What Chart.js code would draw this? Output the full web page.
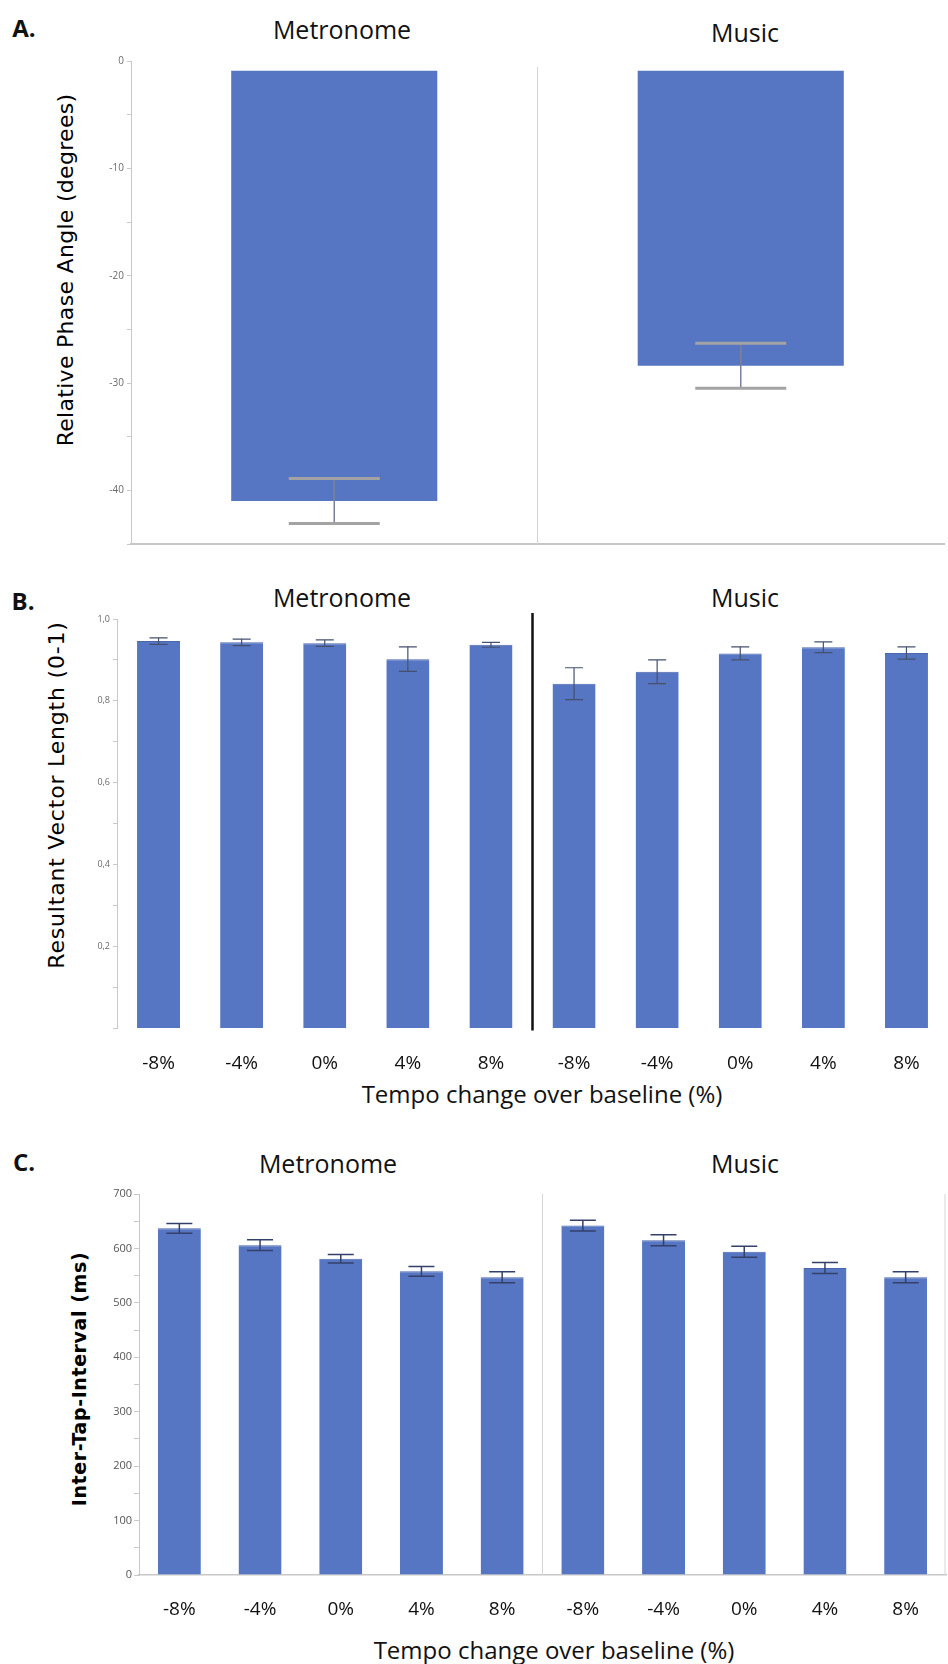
<!DOCTYPE html>
<html>
<head>
<meta charset="utf-8">
<script src="https://cdn.jsdelivr.net/npm/chart.js@4"></script>
<style>
  body { margin: 0; background: #fff; width: 948px; height: 1664px; position: relative; overflow: hidden; font-family: 'Open Sans', sans-serif; }
  .cv { position: absolute; left: 0; width: 948px; }
  .txt { position: absolute; white-space: nowrap; color: #111; transform: translate(-50%, -50%); }
  .lbl { font-weight: bold; font-size: 24px; }
  .grp { font-size: 25px; }
  .xt { font-size: 24px; }
  .yt { font-family: 'DejaVu Sans', sans-serif; font-size: 22px; color: #000; transform: translate(-50%, -50%) rotate(-90deg); }
</style>
</head>
<body>

<div class="txt lbl" style="left:24px; top:27px;">A.</div>
<div class="txt grp" style="left:342px; top:29px;">Metronome</div>
<div class="txt grp" style="left:745px; top:32px;">Music</div>
<div class="txt yt" style="left:65px; top:270px; letter-spacing:0.3px;">Relative Phase Angle (degrees)</div>
<canvas id="chartA" class="cv" style="top:0px; height:560px;" width="948" height="560"></canvas>

<div class="txt lbl" style="left:23px; top:600px;">B.</div>
<div class="txt grp" style="left:342px; top:597px;">Metronome</div>
<div class="txt grp" style="left:745px; top:597px;">Music</div>
<div class="txt yt" style="left:56px; top:795px; letter-spacing:0.8px;">Resultant Vector Length (0-1)</div>
<div class="txt xt" style="left:542px; top:1093px;">Tempo change over baseline (%)</div>
<canvas id="chartB" class="cv" style="top:560px; height:540px;" width="948" height="540"></canvas>

<div class="txt lbl" style="left:24px; top:1161px;">C.</div>
<div class="txt grp" style="left:328px; top:1163px;">Metronome</div>
<div class="txt grp" style="left:745px; top:1163px;">Music</div>
<div class="txt yt" style="left:79px; top:1379px; font-size:19px; font-weight:bold; letter-spacing:0.6px;">Inter-Tap-Interval (ms)</div>
<div class="txt xt" style="left:554px; top:1649px;">Tempo change over baseline (%)</div>
<canvas id="chartC" class="cv" style="top:1100px; height:564px;" width="948" height="564"></canvas>

<script>
// panel A: relative phase angle, one bar per condition
const conditions = ['Metronome', 'Music'];
const phaseStart = [-0.9, -0.9];
const phaseMean = [-41.0, -28.4];
const phaseErr = [2.1, 2.1];

// panels B and C: five tempo steps per condition
const tempoLabels = ['-8%', '-4%', '0%', '4%', '8%', '-8%', '-4%', '0%', '4%', '8%'];
const vectorMean = [0.946, 0.943, 0.941, 0.902, 0.937, 0.842, 0.871, 0.916, 0.931, 0.917];
const vectorErr = [0.008, 0.008, 0.008, 0.030, 0.006, 0.039, 0.029, 0.016, 0.013, 0.015];
const itiMean = [637, 606, 581, 558, 547, 642, 615, 594, 564, 547];
const itiErr = [9, 10, 8, 9, 10, 10, 10, 10, 10, 10];

const barColor = '#5676c3';

// error bars drawn at the end of each bar
const errorBars = {
    id: 'errorBars',
    afterDatasetsDraw(chart, args, opts) {
        if (!opts.err) return;
        let ctx = chart.ctx;
        let y = chart.scales.y;
        let meta = chart.getDatasetMeta(0);
        ctx.save();
        meta.data.forEach(function (bar, i) {
            let m = opts.mean[i];
            let hi = y.getPixelForValue(m + opts.err[i]);
            let lo = y.getPixelForValue(m - opts.err[i]);
            ctx.strokeStyle = opts.color;
            ctx.lineWidth = opts.lineWidth;
            ctx.beginPath();
            ctx.moveTo(bar.x, hi);
            ctx.lineTo(bar.x, lo);
            ctx.stroke();
            ctx.strokeStyle = opts.capColor || opts.color;
            ctx.lineWidth = opts.capLineWidth || opts.lineWidth;
            ctx.beginPath();
            ctx.moveTo(bar.x - opts.cap / 2, hi);
            ctx.lineTo(bar.x + opts.cap / 2, hi);
            ctx.moveTo(bar.x - opts.cap / 2, lo);
            ctx.lineTo(bar.x + opts.cap / 2, lo);
            ctx.stroke();
        });
        ctx.restore();
    }
};

// vertical separator between Metronome and Music, plus optional right frame
const separator = {
    id: 'separator',
    beforeDatasetsDraw(chart, args, opts) {
        if (opts.after === undefined) return;
        let ctx = chart.ctx;
        let x = chart.scales.x;
        let area = chart.chartArea;
        let sx = (x.getPixelForValue(opts.after) + x.getPixelForValue(opts.after + 1)) / 2;
        ctx.save();
        ctx.strokeStyle = opts.color;
        ctx.lineWidth = opts.width;
        ctx.beginPath();
        ctx.moveTo(sx, area.top - (opts.extendTop || 0) + (opts.inset || 0));
        ctx.lineTo(sx, area.bottom + (opts.extendBottom || 0));
        if (opts.frame) {
            ctx.moveTo(area.right - 1, area.top);
            ctx.lineTo(area.right - 1, area.bottom);
        }
        ctx.stroke();
        ctx.restore();
    }
};

Chart.register(errorBars, separator);

let fixWidth = function (w) {
    return function (scale) { scale.width = w; };
};
let fixHeight = function (h) {
    return function (scale) { scale.height = h; };
};

let tickFont = { family: 'Open Sans', size: 10 };

// A
new Chart(document.getElementById('chartA'), {
    type: 'bar',
    data: {
        labels: conditions,
        datasets: [{
            data: phaseMean.map(function (m, i) { return [phaseStart[i], m]; }),
            backgroundColor: barColor,
            borderSkipped: false,
            borderWidth: 0,
            categoryPercentage: 1,
            barPercentage: 0.507
        }]
    },
    options: {
        responsive: false,
        animation: false,
        layout: { padding: { top: 61, right: 4, left: 0, bottom: 0 } },
        plugins: {
            legend: { display: false },
            tooltip: { enabled: false },
            errorBars: { mean: phaseMean, err: phaseErr, color: '#7a819c', lineWidth: 1.5, capColor: '#a3a3a3', capLineWidth: 3, cap: 91 },
            separator: { after: 0, color: '#d4d4d4', width: 1, inset: 6 }
        },
        scales: {
            x: {
                afterFit: fixHeight(16),
                ticks: { display: false },
                grid: { display: false },
                border: { color: '#c6c6c6', width: 2 }
            },
            y: {
                min: -45, max: 0,
                afterFit: fixWidth(131),
                ticks: {
                    stepSize: 5,
                    padding: 3,
                    color: '#6a6a6a',
                    font: tickFont,
                    callback: function (v) { return v % 10 === 0 ? String(v) : ''; }
                },
                grid: { drawOnChartArea: false, tickLength: 4, color: '#c8c8c8' },
                border: { color: '#c8c8c8', width: 1 }
            }
        }
    }
});

// B
new Chart(document.getElementById('chartB'), {
    type: 'bar',
    data: {
        labels: tempoLabels,
        datasets: [{
            data: vectorMean,
            backgroundColor: barColor,
            borderColor: '#4a66ad',
            borderWidth: { top: 1 },
            categoryPercentage: 1,
            barPercentage: 0.518
        }]
    },
    options: {
        responsive: false,
        animation: false,
        layout: { padding: { top: 59, right: 0, left: 0, bottom: 0 } },
        plugins: {
            legend: { display: false },
            tooltip: { enabled: false },
            errorBars: { mean: vectorMean, err: vectorErr, color: '#46506e', lineWidth: 1.2, cap: 18 },
            separator: { after: 4, color: '#111', width: 2.5, extendTop: 6, extendBottom: 2 }
        },
        scales: {
            x: {
                afterFit: fixHeight(71.5),
                ticks: { padding: 16, color: '#111', font: { family: 'Open Sans', size: 19 } },
                grid: { display: false },
                border: { display: false }
            },
            y: {
                min: 0, max: 1,
                afterFit: fixWidth(117),
                ticks: {
                    stepSize: 0.1,
                    padding: 3,
                    color: '#6a6a6a',
                    font: { family: 'Open Sans', size: 9 },
                    callback: function (v) {
                        let k = Math.round(v * 10);
                        if (k === 0 || k % 2 !== 0) return '';
                        return (k / 10).toFixed(1).replace('.', ',');
                    }
                },
                grid: { drawOnChartArea: false, tickLength: 4, color: '#c8c8c8' },
                border: { color: '#c8c8c8', width: 1 }
            }
        }
    }
});

// C
new Chart(document.getElementById('chartC'), {
    type: 'bar',
    data: {
        labels: tempoLabels,
        datasets: [{
            data: itiMean,
            backgroundColor: barColor,
            borderColor: '#4a66ad',
            borderWidth: { top: 1 },
            categoryPercentage: 1,
            barPercentage: 0.533
        }]
    },
    options: {
        responsive: false,
        animation: false,
        layout: { padding: { top: 94, right: 2, left: 0, bottom: 0 } },
        plugins: {
            legend: { display: false },
            tooltip: { enabled: false },
            errorBars: { mean: itiMean, err: itiErr, color: '#34406a', lineWidth: 1.5, cap: 26 },
            separator: { after: 4, color: '#d6d6d6', width: 1, frame: true }
        },
        scales: {
            x: {
                afterFit: fixHeight(89),
                ticks: { padding: 15, color: '#111', font: { family: 'Open Sans', size: 19 } },
                grid: { display: false },
                border: { color: '#c8c8c8', width: 1.5 }
            },
            y: {
                min: 0, max: 700,
                afterFit: fixWidth(139),
                ticks: {
                    stepSize: 50,
                    padding: 2,
                    color: '#555',
                    font: { family: 'Open Sans', size: 11 },
                    callback: function (v) { return v % 100 === 0 ? String(v) : ''; }
                },
                grid: { drawOnChartArea: false, tickLength: 5, color: '#c8c8c8' },
                border: { color: '#c8c8c8', width: 1 }
            }
        }
    }
});
</script>
</body>
</html>
